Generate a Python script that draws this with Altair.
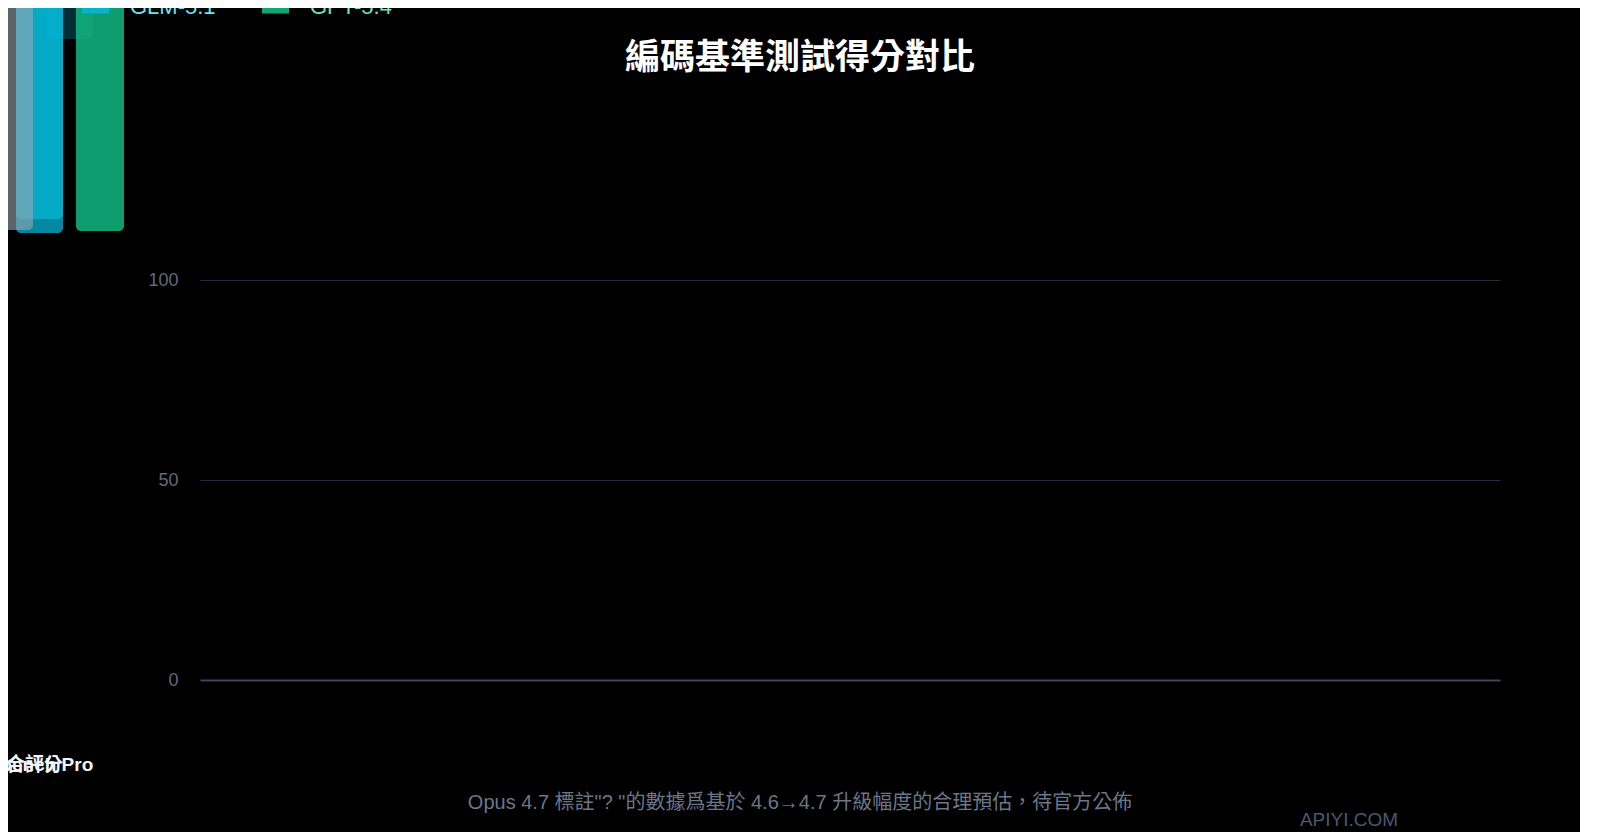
import altair as alt
import pandas as pd

# ---------------- texts ----------------
title_text = "編碼基準測試得分對比"
footnote_text = 'Opus 4.7 標註"? "的數據爲基於 4.6→4.7 升級幅度的合理預估，待官方公佈'
watermark_text = "APIYI.COM"

# ---------------- series / legend ----------------
series = ["Opus 4.7", "Opus 4.6", "Gemini 3.1 Pro", "GLM-5.1", "GPT-5.4"]
series_colors = ["#f59e0b", "#9ca3af", "#8b5cf6", "#06b6d4", "#10b981"]
legend_shown = ["GLM-5.1", "GPT-5.4"]
legend_label_colors = ["#67e8f9", "#6ee7b7"]

# ---------------- y axis ----------------
y_ticks = [0, 50, 100]

# ---------------- bars as caught in the picture ----------------
bar_series = ["GLM-5.1", "GLM-5.1", "GLM-5.1", "Opus 4.6", "GPT-5.4"]
bar_left = [-184, -184, -154, -196, -124]
bar_right = [-137, -137, -107, -167, -76]
bar_low = [111.75, 115.25, 160.25, 112.5, 112.25]
bar_high = [190, 190, 200, 190, 190]
bar_alpha = [0.75, 0.75, 0.25, 0.6, 0.85]

# ---------------- category labels (piled up) ----------------
categories = ["SWE-bench Pro", "綜合評分"]
category_pos = [-178, -175]
category_level = [-21.25, -21.25]

FONT = "Liberation Sans, Noto Sans CJK TC, sans-serif"

bars_df = pd.DataFrame({
    "series": bar_series, "left": bar_left, "right": bar_right,
    "low": bar_low, "high": bar_high, "alpha": bar_alpha,
})
cat_df = pd.DataFrame({"category": categories, "pos": category_pos, "level": category_level})

xs = alt.Scale(domain=[0, 1300], nice=False, zero=False)
ys = alt.Scale(domain=[0, 100], nice=False, zero=False)

xax = alt.Axis(labels=False, ticks=False, grid=False, domainColor="#3b475a",
               domainWidth=2, title=None)
yax = alt.Axis(values=y_ticks, title=None, domain=False, ticks=False, tickSize=0,
               labelPadding=22, labelFont=FONT, labelFontSize=18, labelColor="#5f6b7e",
               gridColor="#222d3f", gridWidth=1)

label_expr = "datum.label === '%s' ? '%s' : '%s'" % (
    legend_shown[0], legend_label_colors[0], legend_label_colors[1])

bars = alt.Chart(bars_df).mark_bar(cornerRadius=5).encode(
    x=alt.X("left:Q", scale=xs, axis=xax),
    x2="right:Q",
    y=alt.Y("low:Q", scale=ys, axis=yax),
    y2="high:Q",
    color=alt.Color(
        "series:N",
        scale=alt.Scale(domain=series, range=series_colors),
        legend=alt.Legend(
            values=legend_shown, orient="none", legendX=-118, legendY=-287,
            direction="horizontal", title=None, padding=0,
            labelFont=FONT, labelFontSize=22, labelColor=alt.ExprRef(label_expr),
            symbolType="M-1,-0.5H1V0.5H-1Z", symbolSize=729, symbolOpacity=0.9,
            symbolStrokeWidth=0, labelOffset=21, columnPadding=46,
        ),
    ),
    opacity=alt.Opacity("alpha:Q", scale=None, legend=None),
)

cat_labels = alt.Chart(cat_df).mark_text(
    font=FONT, fontSize=19, fontWeight="bold", color="#f1f5f9",
    align="center", baseline="middle",
).encode(
    x=alt.X("pos:Q", scale=xs, axis=xax),
    y=alt.Y("level:Q", scale=ys, axis=yax),
    text="category:N",
)

title_layer = alt.Chart(pd.DataFrame({"t": [title_text]})).mark_text(
    font="Noto Sans CJK TC, sans-serif", fontSize=35, fontWeight="bold",
    color="#ffffff", align="center", baseline="middle",
).encode(x=alt.value(600), y=alt.value(-222), text="t:N")

foot_layer = alt.Chart(pd.DataFrame({"t": [footnote_text]})).mark_text(
    font=FONT, fontSize=20, color="#6b7789", align="center", baseline="middle",
).encode(x=alt.value(600), y=alt.value(523), text="t:N")

mark_layer = alt.Chart(pd.DataFrame({"t": [watermark_text]})).mark_text(
    font=FONT, fontSize=19, color="#4b586c", align="center", baseline="alphabetic",
).encode(x=alt.value(1149), y=alt.value(546), text="t:N")

chart = alt.layer(bars, cat_labels, title_layer, foot_layer, mark_layer).properties(
    width=1300,
    height=400,
    autosize=alt.AutoSizeParams(type="none"),
    padding={"left": 192, "top": 272, "right": 80, "bottom": 152},
    background="#000000",
).configure_view(stroke=None)

chart.save("out.html", embed_options={"renderer": "svg", "actions": False})
